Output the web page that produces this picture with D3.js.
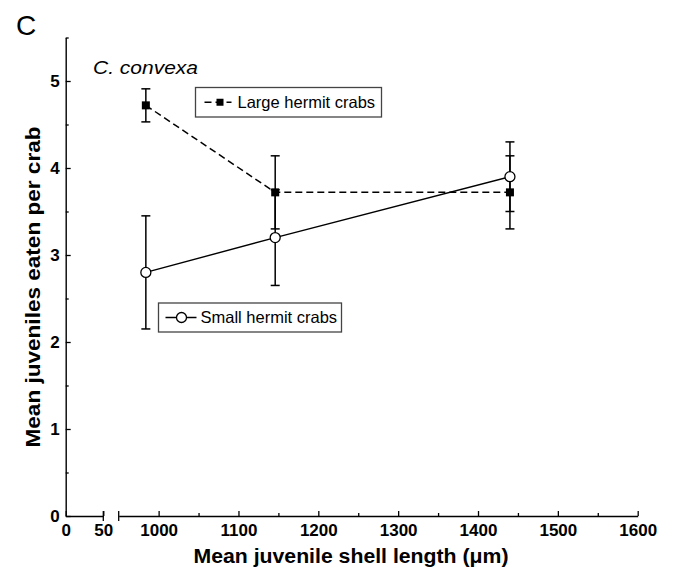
<!DOCTYPE html>
<html>
<head>
<meta charset="utf-8">
<script src="https://cdn.jsdelivr.net/npm/d3@7"></script>
<style>
  html, body { margin: 0; padding: 0; background: #fff; }
  svg { display: block; font-family: "Liberation Sans", Arial, Helvetica, sans-serif; }
</style>
</head>
<body>
<svg id="chart" width="674" height="570"></svg>
<script>
// ---- Data ----
const shellLength = [984, 1146, 1440];              // mean juvenile shell length (µm)
const largeMean   = [4.72, 3.72, 3.72];             // Large hermit crabs
const largeErr    = [0.19, 0.42, 0.42];
const smallMean   = [2.80, 3.20, 3.90];             // Small hermit crabs
const smallErr    = [0.65, 0.55, 0.40];
const seriesNames = ["Large hermit crabs", "Small hermit crabs"];
const yTicks      = [0, 1, 2, 3, 4, 5];
const yMinorTicks = [0.5, 1.5, 2.5, 3.5, 4.5, 5.5];
const xLeftTicks  = [0, 50];
const xRightTicks = [1000, 1100, 1200, 1300, 1400, 1500, 1600];
const xRightMinor = [1050, 1150, 1250, 1350, 1450, 1550];

const svg = d3.select("#chart");

// ---- Scales (broken x axis: 0–50 | 950–1600) ----
const y = d3.scaleLinear().domain([0, 5.5]).range([516, 37.5]);
const xL = d3.scaleLinear().domain([0, 50]).range([65.7, 103.3]);
const xR = d3.scaleLinear().domain([950, 1600]).range([118.7, 637.7]);

const tickFont = "bold 17px 'Liberation Sans', Arial, sans-serif";

// ---- Y axis ----
const yAxisG = svg.append("g").attr("transform", `translate(${xL(0)},0)`)
  .call(d3.axisLeft(y).tickValues(yTicks).tickFormat(d3.format("d"))
        .tickSizeInner(-5).tickSizeOuter(0).tickPadding(6));
yAxisG.select(".domain").attr("stroke", "#000").attr("stroke-width", 1.4);
yAxisG.selectAll(".tick line").attr("stroke", "#000").attr("stroke-width", 1.3);
yAxisG.selectAll("text").style("font", tickFont).attr("fill", "#000");

const yMinorG = svg.append("g").attr("transform", `translate(${xL(0)},0)`)
  .call(d3.axisLeft(y).tickValues(yMinorTicks).tickFormat("").tickSizeInner(-3).tickSizeOuter(0));
yMinorG.select(".domain").remove();
yMinorG.selectAll(".tick line").attr("stroke", "#000").attr("stroke-width", 1.3);

// ---- X axis segments ----
function styleX(g) {
  g.select(".domain").attr("stroke", "#000").attr("stroke-width", 1.4);
  g.selectAll(".tick line").attr("stroke", "#000").attr("stroke-width", 1.3);
  g.selectAll("text").style("font", tickFont).attr("fill", "#000");
}
const xLG = svg.append("g").attr("transform", `translate(0,${y(0)})`)
  .call(d3.axisBottom(xL).tickValues(xLeftTicks).tickFormat(d3.format("d"))
        .tickSizeInner(-5).tickSizeOuter(0).tickPadding(8));
styleX(xLG);
const xRG = svg.append("g").attr("transform", `translate(0,${y(0)})`)
  .call(d3.axisBottom(xR).tickValues(xRightTicks).tickFormat(d3.format("d"))
        .tickSizeInner(-5).tickSizeOuter(0).tickPadding(8));
styleX(xRG);
const xRMinor = svg.append("g").attr("transform", `translate(0,${y(0)})`)
  .call(d3.axisBottom(xR).tickValues(xRightMinor).tickFormat("").tickSizeInner(-3).tickSizeOuter(0));
xRMinor.select(".domain").remove();
xRMinor.selectAll(".tick line").attr("stroke", "#000").attr("stroke-width", 1.3);

// break caps
[xL(50), xR(950)].forEach(px => {
  svg.append("line").attr("x1", px).attr("x2", px)
    .attr("y1", y(0) - 5).attr("y2", y(0) + 5)
    .attr("stroke", "#000").attr("stroke-width", 1.3);
});

// ---- Axis titles ----
svg.append("text").attr("x", 351).attr("y", 563).attr("text-anchor", "middle")
  .attr("textLength", 315).attr("lengthAdjust", "spacingAndGlyphs")
  .style("font", "bold 20px 'Liberation Sans', Arial, sans-serif")
  .text("Mean juvenile shell length (\u03BCm)");
svg.append("text").attr("transform", "translate(40,287) rotate(-90)").attr("text-anchor", "middle")
  .attr("textLength", 321).attr("lengthAdjust", "spacingAndGlyphs")
  .style("font", "bold 20px 'Liberation Sans', Arial, sans-serif")
  .text("Mean juveniles eaten per crab");

// panel label and species
svg.append("text").attr("x", 16).attr("y", 35)
  .style("font", "28px 'Liberation Sans', Arial, sans-serif").text("C");
svg.append("text").attr("x", 93).attr("y", 74)
  .attr("textLength", 105).attr("lengthAdjust", "spacingAndGlyphs")
  .style("font", "italic 19px 'Liberation Sans', Arial, sans-serif").text("C. convexa");

// ---- Series ----
const large = shellLength.map((d, i) => ({ x: d, m: largeMean[i], e: largeErr[i] }));
const small = shellLength.map((d, i) => ({ x: d, m: smallMean[i], e: smallErr[i] }));

const line = d3.line().x(d => xR(d.x)).y(d => y(d.m));

svg.append("path").datum(large).attr("d", line).attr("fill", "none")
  .attr("stroke", "#000").attr("stroke-width", 1.5).attr("stroke-dasharray", "7,4");
svg.append("path").datum(small).attr("d", line).attr("fill", "none")
  .attr("stroke", "#000").attr("stroke-width", 1.4);

function errorBars(data) {
  const g = svg.append("g").attr("stroke", "#000").attr("stroke-width", 1.5);
  data.forEach(d => {
    const cx = xR(d.x);
    g.append("line").attr("x1", cx).attr("x2", cx).attr("y1", y(d.m - d.e)).attr("y2", y(d.m + d.e));
    [d.m - d.e, d.m + d.e].forEach(v => {
      g.append("line").attr("x1", cx - 4.5).attr("x2", cx + 4.5).attr("y1", y(v)).attr("y2", y(v));
    });
  });
}
errorBars(large);
errorBars(small);

svg.append("g").selectAll("rect").data(large).join("rect")
  .attr("x", d => xR(d.x) - 4).attr("y", d => y(d.m) - 4)
  .attr("width", 8).attr("height", 8).attr("fill", "#000");
svg.append("g").selectAll("circle").data(small).join("circle")
  .attr("cx", d => xR(d.x)).attr("cy", d => y(d.m)).attr("r", 5)
  .attr("fill", "#fff").attr("stroke", "#000").attr("stroke-width", 1.3);

// ---- Legends ----
function legend(x0, y0, w, h, name, kind) {
  const g = svg.append("g");
  g.append("rect").attr("x", x0).attr("y", y0).attr("width", w).attr("height", h)
    .attr("fill", "#fff").attr("stroke", "#444").attr("stroke-width", 1.3);
  const cy = y0 + h / 2;
  if (kind === "large") {
    g.append("line").attr("x1", x0 + 9).attr("x2", x0 + 36).attr("y1", cy).attr("y2", cy)
      .attr("stroke", "#000").attr("stroke-width", 1.5).attr("stroke-dasharray", "7,4");
    g.append("rect").attr("x", x0 + 21).attr("y", cy - 3.5).attr("width", 7).attr("height", 7).attr("fill", "#000");
    g.append("text").attr("x", x0 + 42).attr("y", cy + 5.5)
      .style("font", "16.5px 'Liberation Sans', Arial, sans-serif").text(name);
  } else {
    g.append("line").attr("x1", x0 + 7).attr("x2", x0 + 38).attr("y1", cy).attr("y2", cy)
      .attr("stroke", "#000").attr("stroke-width", 1.5);
    g.append("circle").attr("cx", x0 + 23).attr("cy", cy).attr("r", 5)
      .attr("fill", "#fff").attr("stroke", "#000").attr("stroke-width", 1.3);
    g.append("text").attr("x", x0 + 42).attr("y", cy + 5.5)
      .style("font", "16.5px 'Liberation Sans', Arial, sans-serif").text(name);
  }
}
legend(195.5, 87.5, 186, 29.5, seriesNames[0], "large");
legend(158.5, 303, 183, 29, seriesNames[1], "small");
</script>
</body>
</html>
